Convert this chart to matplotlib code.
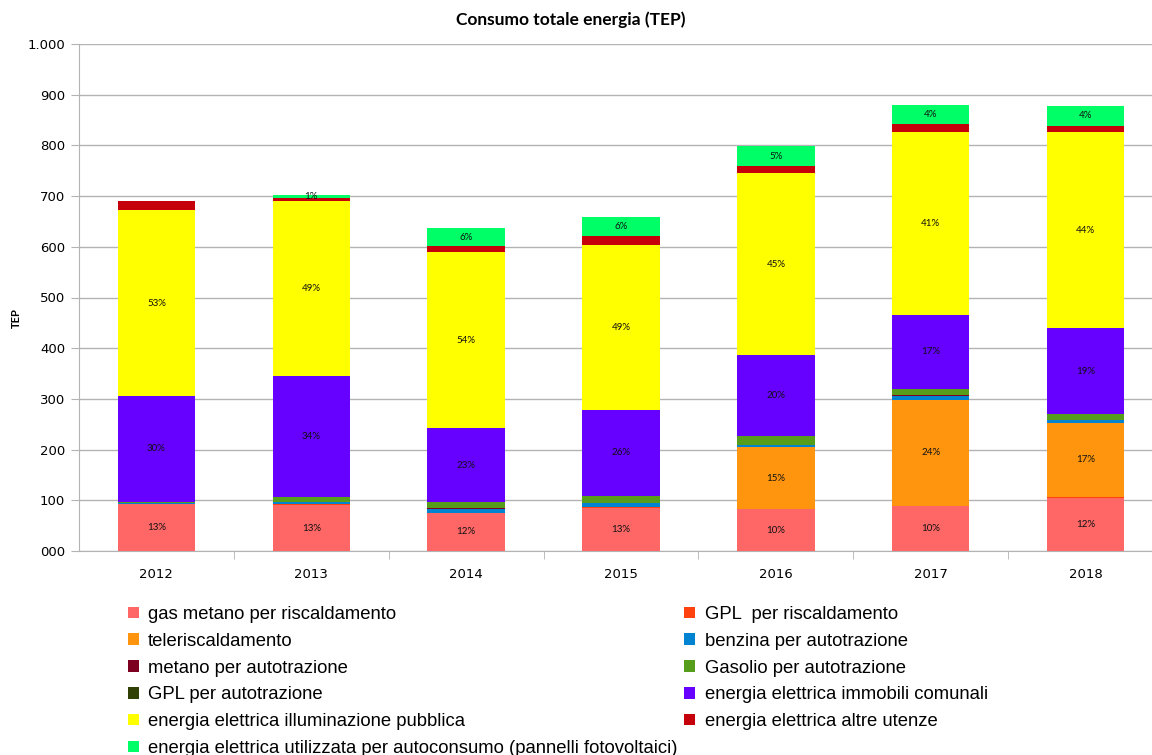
import numpy as np
import matplotlib.pyplot as plt
from matplotlib.ticker import FuncFormatter


anni = ['2012', '2013', '2014', '2015', '2016', '2017', '2018']

gas_metano = [92, 90, 75, 85, 82, 89, 104]
gpl_risc = [1, 2, 0, 2, 0, 0, 2]
teleriscaldamento = [0, 0, 0, 0, 123, 209, 147]
benzina = [2, 4, 7, 8, 5, 8, 6]
metano_auto = [0, 0, 2, 0, 0, 2, 0]
gasolio = [2, 11, 12, 14, 16, 12, 12]
gpl_auto = [0, 0, 0, 0, 0, 0, 0]
immobili = [209, 238, 147, 170, 160, 146, 168]
illuminazione = [366, 345, 346, 324, 360, 360, 388]
altre_utenze = [18, 7, 12, 18, 14, 16, 12]
autoconsumo = [0, 6, 36, 37, 38, 37, 38]

nomi = ['gas metano per riscaldamento', 'GPL  per riscaldamento', 'teleriscaldamento',
        'benzina per autotrazione', 'metano per autotrazione', 'Gasolio per autotrazione',
        'GPL per autotrazione', 'energia elettrica immobili comunali',
        'energia elettrica illuminazione pubblica', 'energia elettrica altre utenze',
        'energia elettrica utilizzata per autoconsumo (pannelli fotovoltaici)']
colori = ['#ff6666', '#ff420e', '#ff950e', '#0084d1', '#7e0021', '#579d1c',
          '#314004', '#6600ff', '#ffff00', '#c5000b', '#00ff66']
serie = [gas_metano, gpl_risc, teleriscaldamento, benzina, metano_auto, gasolio,
         gpl_auto, immobili, illuminazione, altre_utenze, autoconsumo]
# serie con etichetta percentuale
con_etichetta = [0, 2, 7, 8, 10]


fig = plt.figure(figsize=(11.52, 7.55), dpi=100)
ax = fig.add_axes([79 / 1152, 1 - 551 / 755, (1163 - 79) / 1152, (551 - 44) / 755])

x = np.arange(len(anni))
dati = np.array(serie, dtype=float)
totali = dati.sum(axis=0)
base = np.zeros(len(anni))

barre = []
for i, valori in enumerate(dati):
    b = ax.bar(x, valori, 0.5, bottom=base, color=colori[i], label=nomi[i], zorder=3)
    barre.append(b)
    if i in con_etichetta:
        for j in range(len(anni)):
            if valori[j] > 0:
                pct = round(valori[j] / totali[j] * 100)
                ax.text(x[j], base[j] + valori[j] / 2, '%d%%' % pct, ha='center', va='center',
                        fontsize=7, family='Lato', color='#111111', zorder=4)
    base += valori

ax.set_xlim(-0.5, 6.5)
ax.set_ylim(0, 1000)
ax.set_yticks(np.arange(0, 1001, 100))
ax.yaxis.set_major_formatter(FuncFormatter(lambda v, p: '1.000' if v >= 1000 else '%03d' % v))
ax.set_xticks(x)
ax.set_xticklabels(anni)
ax.set_xticks(np.arange(0.5, 6.5, 1), minor=True)
ax.tick_params(axis='x', which='major', length=0, pad=12, labelsize=9.5)
ax.tick_params(axis='x', which='minor', length=6, color='#b3b3b3')
ax.tick_params(axis='y', length=6, color='#b3b3b3', labelsize=9.5, pad=4)
ax.grid(axis='y', color='#b3b3b3', lw=1, zorder=0)
for s in ['top', 'right']:
    ax.spines[s].set_visible(False)
ax.spines['left'].set_color('#b3b3b3')
ax.spines['bottom'].set_color('#b3b3b3')

fig.text(16 / 1152, 1 - 318 / 755, 'TEP', rotation=90, ha='center', va='center',
         fontsize=8, fontweight='bold', family='Lato')
fig.text(571 / 1152, 1 - 20 / 755, 'Consumo totale energia (TEP)', ha='center', va='center',
         fontsize=12.5, fontweight='bold', family='Lato')

ordine = [0, 2, 4, 6, 8, 10, 1, 3, 5, 7, 9]
fig.legend([barre[k] for k in ordine], [nomi[k] for k in ordine], ncol=2,
           loc='upper left', bbox_to_anchor=(115 / 1152, 1 - 593 / 755), frameon=False,
           prop={'family': ['Liberation Sans', 'DejaVu Sans'], 'size': 13.3},
           handlelength=0.6, handleheight=0.6, handletextpad=0.5, columnspacing=0.35,
           labelspacing=0.53, borderpad=0.2)

plt.savefig('out.png', dpi=100)
